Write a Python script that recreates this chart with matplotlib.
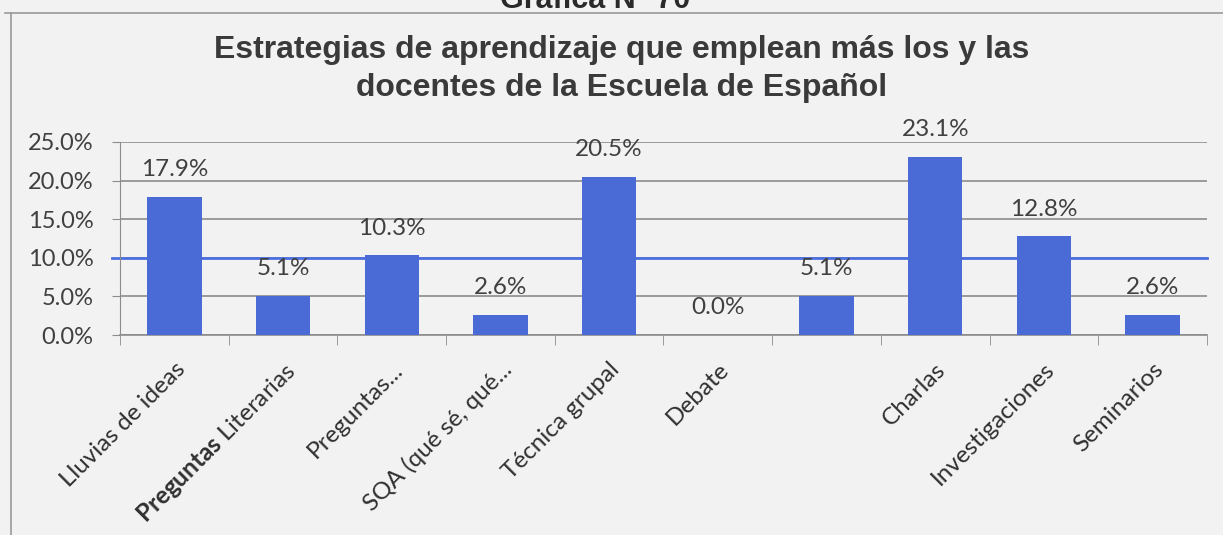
import numpy as np
import matplotlib
matplotlib.use("Agg")
import matplotlib.pyplot as plt
from matplotlib.lines import Line2D

# datos
categorias = ["Lluvias de ideas", r"$\bf{Preguntas}$ Literarias", "Preguntas...",
              "SQA (qué sé, qué...", "Técnica grupal", "Debate", "",
              "Charlas", "Investigaciones", "Seminarios"]
porcentajes = [0.179, 0.051, 0.103, 0.026, 0.205, 0.0, 0.051, 0.231, 0.128, 0.026]
etiquetas = ["17.9%", "5.1%", "10.3%", "2.6%", "20.5%", "0.0%", "5.1%", "23.1%", "12.8%", "2.6%"]
yticks = [0.0, 0.05, 0.10, 0.15, 0.20, 0.25]

plt.rcParams["mathtext.fontset"] = "custom"
plt.rcParams["mathtext.bf"] = "Lato:bold"
plt.rcParams["mathtext.rm"] = "Lato"

fondo = "#f2f2f2"
azul = "#4a6ad6"
gris_texto = "#404040"
gris_linea = "#8c8c8c"

fig = plt.figure(figsize=(12.23, 5.35), dpi=100, facecolor=fondo)
ax = fig.add_axes([0.0981, 0.3738, 0.8888, 0.3608])
ax.set_facecolor(fondo)

x = np.arange(len(categorias))
ax.bar(x, porcentajes, width=0.5, color=azul, zorder=3)

for xi, v, txt in zip(x, porcentajes, etiquetas):
    ax.annotate(txt, (xi, v), xytext=(0, 19.5), textcoords="offset points",
                ha="center", va="center", fontsize=17.5, family="Lato",
                color=gris_texto, zorder=4)

ax.set_xlim(-0.5, len(categorias) - 0.5)
ax.set_ylim(0, 0.25)
ax.set_yticks(yticks)
ax.set_yticklabels([f"{v * 100:.1f}%" for v in yticks], family="Lato",
                   fontsize=17, color=gris_texto)
ax.yaxis.grid(True, color=gris_linea, linewidth=1.2, zorder=0)
# línea azul del escaneo a la altura del 10%
ax.axhline(0.10, xmin=-0.007, xmax=1, color="#4d70e0", linewidth=2,
           zorder=2, clip_on=False)

ax.set_xticks(x)
ax.set_xticklabels(categorias, rotation=45, ha="right", rotation_mode="anchor",
                   family="Lato", fontsize=17.5, color="#303030")
ax.set_xticks(np.arange(-0.5, len(categorias)), minor=True)
ax.tick_params(axis="x", which="major", length=0, pad=17)
ax.tick_params(axis="x", which="minor", length=7, color=gris_linea, direction="out")
ax.tick_params(axis="y", length=6, color=gris_linea, pad=13)

for lado in ["top", "right"]:
    ax.spines[lado].set_visible(False)
ax.spines["left"].set_color(gris_linea)
ax.spines["bottom"].set_color(gris_linea)
ax.spines["bottom"].set_linewidth(1.2)

# títulos
fig.text(0.508, 1 - 50 / 535, "Estrategias de aprendizaje que emplean más los y las",
         ha="center", va="center", fontsize=23, fontweight="bold",
         family="Liberation Sans", color="#3a3a3a")
fig.text(0.508, 1 - 88 / 535, "docentes de la Escuela de Español",
         ha="center", va="center", fontsize=23, fontweight="bold",
         family="Liberation Sans", color="#3a3a3a")
fig.text(0.487, 1 - 8 / 535, "Gráfica N° 70", ha="center", va="baseline",
         fontsize=22, fontweight="bold", family="Liberation Sans", color="#2a2a2a")

# marco del recuadro
fig.add_artist(Line2D([0.004, 1.0], [1 - 13 / 535, 1 - 13 / 535],
                      transform=fig.transFigure, color="#9a9a9a", linewidth=1.2))
fig.add_artist(Line2D([11 / 1223, 11 / 1223], [0, 1 - 13 / 535],
                      transform=fig.transFigure, color="#9a9a9a", linewidth=1.2))

fig.savefig("out.png", dpi=100, facecolor=fondo)
